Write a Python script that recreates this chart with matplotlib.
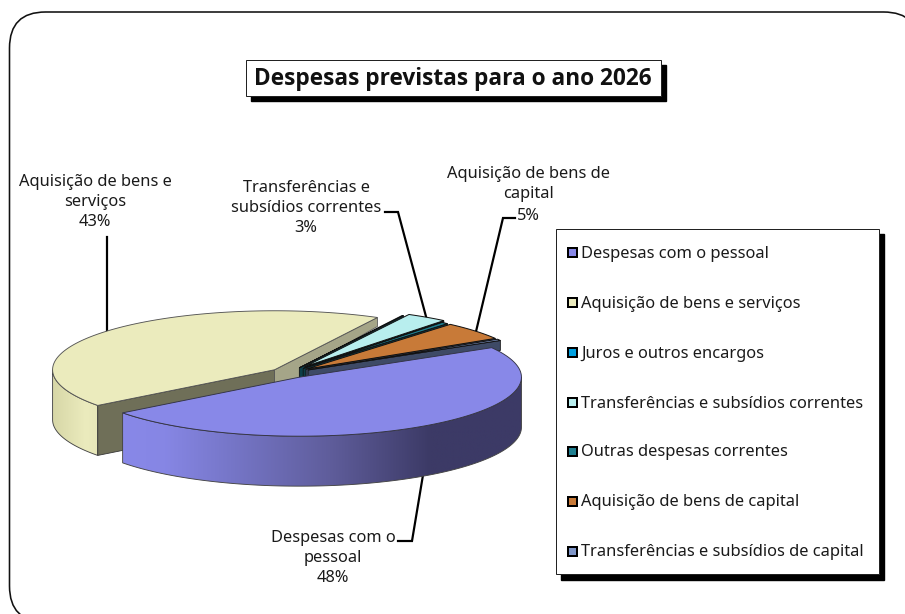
import numpy as np
import matplotlib
matplotlib.use("Agg")
import matplotlib.pyplot as plt
from matplotlib.colors import to_rgb
from matplotlib.patches import FancyBboxPatch, Polygon, Rectangle

FONT = "Noto Sans"

title = "Despesas previstas para o ano 2026"
categories = ["Despesas com o pessoal", "Aquisição de bens e serviços",
              "Juros e outros encargos", "Transferências e subsídios correntes",
              "Outras despesas correntes", "Aquisição de bens de capital",
              "Transferências e subsídios de capital"]
values = [48, 43, 0.1, 3, 0.5, 5, 0.4]
explode = [0.085, 0.085, 0.1, 0.13, 0.1, 0.1, 0.1]
colors = ["#8888e8", "#ebebbd", "#00a0e0", "#b8eeee", "#1f7f90", "#c87a38", "#7f96c8"]
cut_colors = ["#4a4a80", "#6f6f58", "#0d3f4a", "#050808", "#0d3f4a", "#3e4a66", "#3e4a66"]
cut_depth = [0, 50, 12, 6, 12, 14, 10]

CX, CY, RX, RY, DEPTH = 289, 373, 222, 59, 50
START = 30

fig = plt.figure(figsize=(9.05, 6.14), dpi=100)
ax = fig.add_axes([0, 0, 1, 1])
ax.axis("off")


def px(w):
    return w * 0.72


def arc(c, t1, t2):
    t = np.radians(np.linspace(t1, t2, max(int(abs(t2 - t1)) + 2, 3)))
    return np.column_stack([c[0] + RX * np.cos(t), c[1] - RY * np.sin(t)])


def wall(c, t1, t2, stops, zorder):
    # front wall of a slice with a left to right shade
    lo, hi = max(min(t1, t2), -180), min(max(t1, t2), 0)
    top = arc(c, lo, hi)
    shape = np.vstack([top, top[::-1] + [0, DEPTH]])
    xs = np.linspace(shape[:, 0].min(), shape[:, 0].max(), 300)
    rgb = [np.interp(xs, [s[0] for s in stops], [to_rgb(s[1])[k] for s in stops]) for k in range(3)]
    im = ax.imshow(np.dstack(rgb)[0:1], extent=(xs[0], xs[-1], shape[:, 1].max(), shape[:, 1].min()),
                   aspect="auto", zorder=zorder)
    outline = Polygon(shape, fc="none", ec="#444444", lw=px(0.9), zorder=zorder + 0.1)
    ax.add_patch(outline)
    im.set_clip_path(outline)


purple_stops = [(125, "#8888e8"), (165, "#8686e4"), (230, "#7676c8"), (330, "#5f5d9b"), (430, "#3c3a66"), (522, "#3c3a66")]
yellow_stops = [(54, "#d8d8a8"), (85, "#ebebbd"), (100, "#e6e6b8")]

# frame
ax.add_patch(FancyBboxPatch((45.5, 48), 838, 538, boxstyle="round,pad=36,rounding_size=36",
                            fc="white", ec="#111111", lw=px(1.6), zorder=0))

# title box
ax.add_patch(Rectangle((250.5, 65), 415, 36, fc="black", ec="black", zorder=1))
ax.add_patch(Rectangle((245.5, 60), 415, 36, fc="white", ec="#222222", lw=px(1), zorder=1.5))
ax.text(453, 79, title, ha="center", va="center", fontsize=16.3, fontweight="bold",
        color="#111111", family="Open Sans", zorder=2)

# slices, worked out from the values
angles = START - np.cumsum([0] + values) * 3.6
centres = []
for i, v in enumerate(values):
    mid = np.radians((angles[i] + angles[i + 1]) / 2)
    centres.append((CX + explode[i] * RX * np.cos(mid), CY - explode[i] * RY * np.sin(mid)))

# leader lines go under the pie
leaders = [([107, 107], [237, 335]),
           ([385, 398, 428], [212, 212, 324]),
           ([515, 503, 474], [218, 218, 340]),
           ([398, 412, 423], [541, 541, 475])]
for lx, ly in leaders:
    ax.plot(lx, ly, color="black", lw=px(2.2), solid_joinstyle="miter", zorder=1.8)

# yellow slice (back left)
c = centres[1]
apex = np.array(c)
a1 = arc(c, angles[1], angles[1])[0]
a2 = arc(c, angles[2], angles[2])[0]
wall(c, angles[2], angles[1], yellow_stops, 2)
ax.add_patch(Polygon([apex, a1, a1 + [0, DEPTH], apex + [0, DEPTH]], fc=cut_colors[1],
                     ec="#333333", lw=px(0.8), zorder=3))
ax.add_patch(Polygon([apex, a2, a2 + [0, 9], apex + [25, 1], apex + [25, 22], apex + [0, 22]],
                     fc="#a5a588", ec="#555555", lw=px(0.8), zorder=3))
ax.add_patch(Polygon(np.vstack([[apex], arc(c, angles[1], angles[2])]), fc=colors[1],
                     ec="#555555", lw=px(0.9), zorder=4))

# small slices behind the purple one
for i in [2, 3, 4, 5, 6]:
    c = centres[i]
    apex = np.array(c)
    end = arc(c, angles[i + 1], angles[i + 1])[0]
    ax.add_patch(Polygon([apex, end, end + [0, cut_depth[i]], apex + [0, cut_depth[i]]],
                         fc=cut_colors[i], ec="#111111", lw=px(0.8), zorder=5))
    ax.add_patch(Polygon(np.vstack([[apex], arc(c, angles[i], angles[i + 1])]), fc=colors[i],
                         ec="#111111", lw=px(1.0), zorder=6))

# purple slice (front)
c = centres[0]
wall(c, angles[1], angles[0], purple_stops, 7)
ax.add_patch(Polygon(np.vstack([[c], arc(c, angles[1], angles[0])]), fc=colors[0],
                     ec="#333344", lw=px(0.9), zorder=8))

# data labels
data_labels = [(95, [182.5, 202.5, 222.5], ["Aquisição de bens e", "serviços", "43%"]),
               (306, [188.5, 208.5, 228.5], ["Transferências e", "subsídios correntes", "3%"]),
               (528, [174.5, 194.5, 215.5], ["Aquisição de bens de", "capital", "5%"]),
               (333, [537.5, 557.5, 577.5], ["Despesas com o", "pessoal", "48%"])]
for x, ys, lines in data_labels:
    for y, s in zip(ys, lines):
        ax.text(x, y, s, ha="center", va="center", fontsize=11.8, color="#1a1a1a",
                family=FONT, zorder=9)

# legend
ax.add_patch(Rectangle((561, 234), 323, 346, fc="black", ec="black", zorder=9))
ax.add_patch(Rectangle((556, 228.5), 322.5, 345.5, fc="white", ec="#222222", lw=px(1), zorder=9.5))
legend_y = [252, 302, 352, 402, 451, 501, 551]
for y, name, col in zip(legend_y, categories, colors):
    ax.add_patch(Rectangle((567.5, y - 4.5), 9, 9, fc=col, ec="black", lw=px(2), zorder=10))
    ax.text(581, y + 1.5, name, ha="left", va="center", fontsize=11.85, color="#1a1a1a",
            family=FONT, zorder=10)

ax.set_xlim(0, 905)
ax.set_ylim(614, 0)
fig.savefig("out.png", dpi=100)
